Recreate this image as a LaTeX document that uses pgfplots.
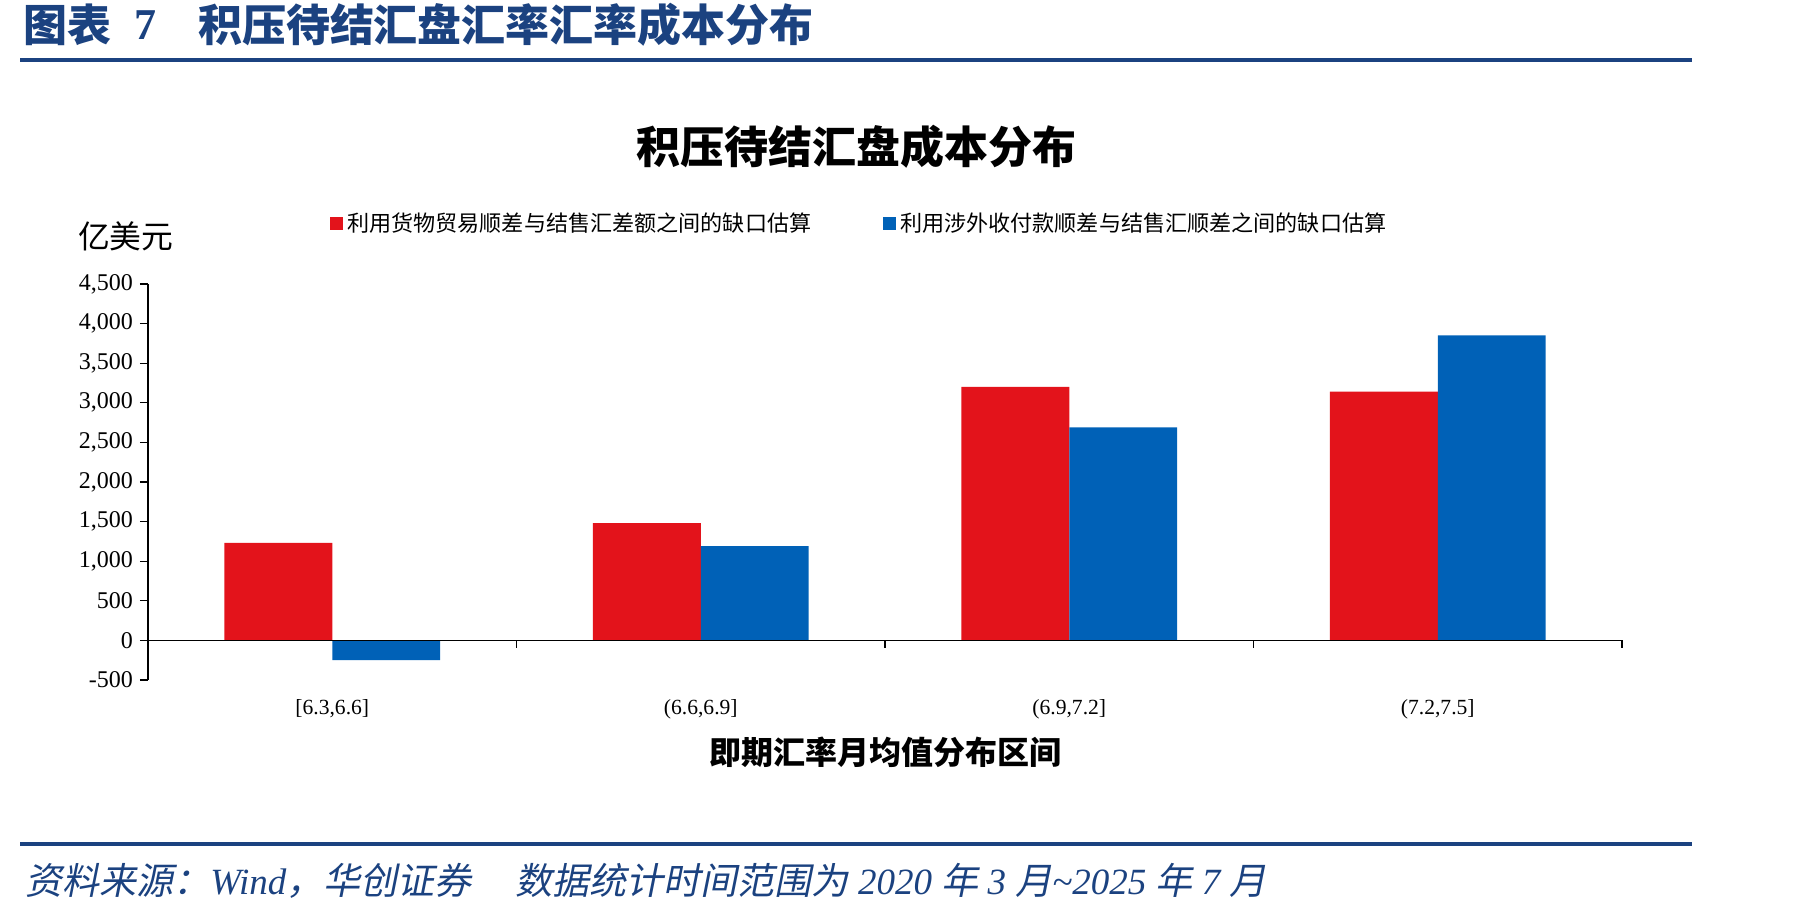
\documentclass[border=0pt]{standalone}
\usepackage{fontspec}
\setmainfont{Liberation Serif}
\usepackage{pgfplots}
\pgfplotsset{compat=1.18}
\newfontfamily\cjk{Noto Sans CJK SC}
\newfontfamily\cjkit{Noto Sans CJK SC}[FakeSlant=0.2]
\definecolor{hdr}{RGB}{27,66,128}
\definecolor{cred}{RGB}{227,19,27}
\definecolor{cblue}{RGB}{0,97,183}
\begin{document}
\begin{tikzpicture}[x=1pt,y=1pt]
\path[use as bounding box] (0,0) rectangle (900.5,-456.5);
% header
\node[anchor=west, inner sep=0pt, text=hdr, font=\cjk\bfseries\fontsize{22pt}{22pt}\selectfont] at (11.5,-12.5) {图表};
\node[anchor=west, inner sep=0pt, text=hdr, font=\bfseries\fontsize{22pt}{22pt}\selectfont] at (67,-12.5) {7};
\node[anchor=west, inner sep=0pt, text=hdr, font=\cjk\bfseries\fontsize{22pt}{22pt}\selectfont] at (98.8,-12.5) {积压待结汇盘汇率汇率成本分布};
\draw[hdr, line width=2pt] (10,-30) -- (846,-30);
% chart title
\node[inner sep=0pt, font=\cjk\bfseries\fontsize{22pt}{23pt}\selectfont] at (428,-73.5) {积压待结汇盘成本分布};
\begin{axis}[
  at={(74pt,-340pt)}, anchor=south west,
  scale only axis, width=737pt, height=198pt,
  xmin=-0.5, xmax=3.5, ymin=-500, ymax=4500,
  axis lines*=left,
  x axis line style={draw=none},
  y axis line style={black, line width=0.6pt},
  xtick={0,1,2,3},
  xticklabels={{[6.3,6.6]},{(6.6,6.9]},{(6.9,7.2]},{(7.2,7.5]}},
  xtick style={draw=none},
  xticklabel style={font=\fontsize{10.8pt}{11pt}\selectfont, yshift=-2pt},
  ytick={-500,0,500,1000,1500,2000,2500,3000,3500,4000,4500},
  ytick style={black, line width=0.6pt},
  tick align=outside, major tick length=4pt,
  scaled y ticks=false,
  /pgf/number format/assume math mode=true,
  /pgf/number format/1000 sep={,},
  yticklabel style={font=\fontsize{12pt}{12pt}\selectfont},
  xlabel={即期汇率月均值分布区间},
  xlabel style={at={(axis description cs:0.5,-0.1817)}, anchor=center, font=\cjk\bfseries\fontsize{16pt}{16pt}\selectfont},
  ylabel={亿美元},
  ylabel style={rotate=-90, at={(axis description cs:-0.0150,1.1216)}, anchor=center, font=\cjk\fontsize{15.9pt}{16pt}\selectfont},
  legend style={at={(axis description cs:0.1235,1.1532)}, anchor=west, draw=none, fill=none,
    font=\cjk\fontsize{11.05pt}{12pt}\selectfont, inner sep=0pt,
    /tikz/every even column/.append style={column sep=34pt},
    nodes={inner sep=2pt}},
  legend columns=2,
  legend image code/.code={\fill[#1] (0pt,-3.2pt) rectangle (6.4pt,3.2pt);},
  clip=false,
]
\addplot[ybar, bar width=0.293, bar shift=-0.1465, fill=cred, draw=none] coordinates {(0,1230) (1,1480) (2,3200) (3,3140)};
\addlegendentry{利用货物贸易顺差与结售汇差额之间的缺口估算}
\addplot[ybar, bar width=0.293, bar shift=0.1465, fill=cblue, draw=none] coordinates {(0,-250) (1,1190) (2,2690) (3,3850)};
\addlegendentry{利用涉外收付款顺差与结售汇顺差之间的缺口估算}
\draw[black, line width=0.6pt] (axis cs:-0.5,0) -- (axis cs:3.5,0);
\draw[black, line width=0.6pt] (axis cs:0.5,0) -- ([yshift=-4pt]axis cs:0.5,0);
\draw[black, line width=0.6pt] (axis cs:1.5,0) -- ([yshift=-4pt]axis cs:1.5,0);
\draw[black, line width=0.6pt] (axis cs:2.5,0) -- ([yshift=-4pt]axis cs:2.5,0);
\draw[black, line width=0.6pt] (axis cs:3.5,0) -- ([yshift=-4pt]axis cs:3.5,0);
\end{axis}
% footer
\draw[hdr, line width=1.8pt] (10,-422) -- (846,-422);
\node[anchor=west, inner sep=0pt, text=hdr, font=\fontsize{18.5pt}{19pt}\selectfont] at (12.5,-440.5)
 {{\cjkit 资料来源：}{\itshape Wind}{\cjkit ，华创证券\hspace{1.2em}数据统计时间范围为}{\itshape\ 2020 }{\cjkit 年}{\itshape\ 3 }{\cjkit 月}{\itshape\textasciitilde 2025 }{\cjkit 年}{\itshape\ 7 }{\cjkit 月}};
\end{tikzpicture}
\end{document}
